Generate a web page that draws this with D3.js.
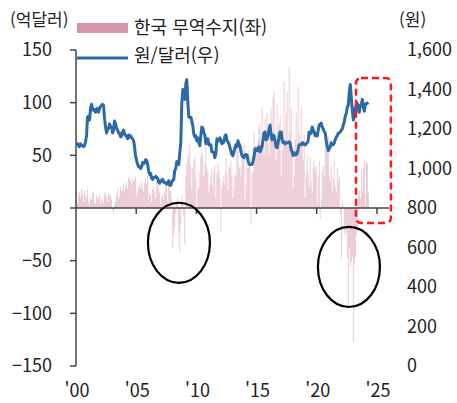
<!DOCTYPE html>
<html lang="ko">
<head>
<meta charset="UTF-8">
<title>한국 무역수지와 원/달러</title>
<script src="https://d3js.org/d3.v7.min.js"></script>
<style>
  body { margin: 0; background: #fff; }
  text { font-family: "Noto Sans CJK KR", "Noto Sans", sans-serif; fill: #222; }
</style>
</head>
<body>
<script>
// monthly, starting Jan 2000 (억달러)
var tradeBalance = [
  8, 5, 12, 15, 10, 18, 14, 6, 16, 12, 9, 17,          // 2000
  6, 3, 10, 8, 14, 16, 5, 4, 12, 8, 10, 13,            // 2001
  4, 9, 7, 5, 13, 15, 10, 6, 14, 11, 12, 8,            // 2002
  -2, -5, 3, 6, 12, 18, 9, 10, 20, 16, 17, 22,         // 2003
  15, 20, 24, 18, 28, 30, 26, 22, 29, 25, 27, 30,      // 2004
  12, 15, 20, 22, 18, 25, 19, 15, 24, 28, 23, 31,      // 2005
  8, 14, 12, 6, 18, 20, 16, 9, 26, 22, 18, 15,         // 2006
  4, 10, 12, 8, 14, 25, 20, 6, 28, 24, 16, 10,         // 2007
  -38, -25, -18, -5, 6, 10, -24, -42, -16, 12, 4, -8,  // 2008
  -35, 30, 42, 48, 50, 62, 40, 18, 38, 45, 48, 28,     // 2009
  -6, 20, 18, 35, 48, 55, 50, 30, 42, 58, 38, 35,      // 2010
  15, 22, 30, 38, 20, 35, 40, 10, 32, 42, 35, 28,      // 2011
  -23, 20, 25, 30, 22, 48, 32, 18, 40, 38, 45, 30,     // 2012
  10, 20, 32, 30, 60, 55, 38, 40, 30, 50, 48, 62,      // 2013
  8, 22, 42, 38, 55, 48, -16, 32, 35, 72, 54, 60,      // 2014
  55, 65, 80, 75, 60, 95, 70, 50, 85, 68, 90, 72,      // 2015
  50, 75, 95, 70, 105, 110, 65, 45, 98, 75, 80, 88,    // 2016
  30, 55, 75, 120, 60, 90, 110, 65, 134, 70, 95, 58,   // 2017
  20, 30, 65, 90, 60, 115, 70, 55, 95, 60, 45, 70,     // 2018
  10, 30, 50, 35, 20, 48, 25, 15, 39, 45, 35, 40,      // 2019
  5, 30, 45, -10, 8, 35, 40, 30, 65, 55, 60, 68,       // 2020
  30, 25, 40, 15, 28, 45, 20, 15, 38, 25, 30, -5,      // 2021
  -48, 8, 2, -25, -16, -24, -48, -94, -38, -55, -52, -47, // 2022
  -127, -53, -46, -26, -21, 12, 16, 9, 37, 16, 38, 45, // 2023
  3, 43, 43, 15                                        // 2024
];

// monthly average, starting Jan 2000 (원)
var usdKrw = [
  1130, 1125, 1117, 1110, 1125, 1120, 1115, 1110, 1115, 1135, 1165, 1260, // 2000
  1265, 1245, 1300, 1325, 1305, 1295, 1300, 1285, 1300, 1305, 1285, 1305, // 2001
  1315, 1320, 1325, 1320, 1255, 1210, 1180, 1195, 1205, 1225, 1210, 1210, // 2002
  1180, 1195, 1240, 1225, 1205, 1195, 1180, 1180, 1160, 1165, 1185, 1195, // 2003
  1175, 1165, 1165, 1150, 1170, 1160, 1165, 1155, 1150, 1140, 1105, 1060, // 2004
  1040, 1020, 1010, 1010, 1000, 1010, 1030, 1025, 1030, 1045, 1040, 1020, // 2005
  985, 970, 975, 950, 945, 955, 955, 960, 955, 950, 930, 925,             // 2006
  938, 938, 945, 930, 928, 928, 920, 930, 938, 915, 915, 932,             // 2007
  940, 945, 990, 1000, 1035, 1030, 1020, 1080, 1130, 1330, 1400, 1360,    // 2008
  1350, 1430, 1450, 1340, 1260, 1260, 1260, 1240, 1215, 1175, 1160, 1165, // 2009
  1140, 1155, 1135, 1115, 1165, 1210, 1205, 1180, 1170, 1125, 1135, 1150, // 2010
  1120, 1118, 1120, 1085, 1085, 1080, 1055, 1075, 1150, 1145, 1140, 1155, // 2011
  1145, 1125, 1130, 1135, 1165, 1170, 1145, 1135, 1125, 1106, 1088, 1070, // 2012
  1065, 1085, 1105, 1120, 1110, 1140, 1125, 1115, 1085, 1065, 1060, 1055, // 2013
  1070, 1070, 1070, 1040, 1025, 1020, 1020, 1020, 1035, 1060, 1100, 1100, // 2014
  1090, 1100, 1110, 1085, 1095, 1110, 1145, 1180, 1185, 1145, 1150, 1170, // 2015
  1200, 1220, 1170, 1145, 1170, 1165, 1140, 1110, 1105, 1130, 1160, 1185, // 2016
  1185, 1145, 1130, 1135, 1125, 1130, 1130, 1130, 1135, 1130, 1095, 1085, // 2017
  1065, 1080, 1070, 1070, 1075, 1095, 1120, 1120, 1120, 1130, 1130, 1120, // 2018
  1120, 1125, 1130, 1140, 1185, 1175, 1180, 1210, 1195, 1185, 1165, 1175, // 2019
  1165, 1195, 1220, 1225, 1230, 1210, 1200, 1185, 1180, 1140, 1110, 1090, // 2020
  1100, 1110, 1130, 1120, 1120, 1130, 1145, 1160, 1165, 1180, 1180, 1185, // 2021
  1195, 1200, 1220, 1235, 1265, 1280, 1310, 1320, 1390, 1425, 1355, 1295, // 2022
  1245, 1270, 1305, 1320, 1330, 1295, 1285, 1320, 1325, 1350, 1310, 1290, // 2023
  1325, 1330, 1330, 1335                                                  // 2024
];

var xTickYears = [2000, 2005, 2010, 2015, 2020, 2025];
var leftTicks = [150, 100, 50, 0, -50, -100, -150];
var rightTicks = [0, 200, 400, 600, 800, 1000, 1200, 1400, 1600];

// highlighted spots (year, 억달러)
var ellipses = [
  { cx: 2008.55, cy: -33, rx: 2.57, ry: 38 },
  { cx: 2022.67, cy: -56, rx: 2.57, ry: 38 }
];
var redBox = { x0: 2023.26, x1: 2026.16, y0: 123.4, y1: -14.2 };

var width = 457, height = 403;
var svg = d3.select('body').append('svg')
  .attr('width', width)
  .attr('height', height);

function monthDate(i) { return new Date(2000 + Math.floor(i / 12), i % 12, 15); }
function yearDate(y) {
  var yr = Math.floor(y);
  return new Date(yr, 0, 1 + Math.round((y - yr) * 365));
}

var x = d3.scaleTime()
  .domain([new Date(2000, 0, 1), new Date(2026, 0, 1)])
  .range([76, 389]);
var yL = d3.scaleLinear().domain([-150, 150]).range([366, 50]);
var yR = d3.scaleLinear().domain([0, 1600]).range([366, 50]);

// bars
svg.append('g').selectAll('rect')
  .data(tradeBalance)
  .enter()
  .append('rect')
  .attr('x', function (d, i) { return x(monthDate(i)) - 0.4; })
  .attr('width', 0.8)
  .attr('y', function (d) { return yL(Math.max(0, d)); })
  .attr('height', function (d) { return Math.abs(yL(d) - yL(0)); })
  .attr('fill', '#d58aa3')
  .attr('fill-opacity', 0.55);

// x axis at zero
var xAxis = svg.append('g').attr('transform', 'translate(0,' + yL(0) + ')');
xAxis.append('line')
  .attr('x1', x.range()[0]).attr('x2', x.range()[1])
  .attr('stroke', '#444').attr('stroke-width', 1.5);
xAxis.selectAll('.tk')
  .data(xTickYears.slice(1))
  .enter().append('line')
  .attr('x1', function (d) { return x(new Date(d, 0, 1)); })
  .attr('x2', function (d) { return x(new Date(d, 0, 1)); })
  .attr('y1', 0).attr('y2', 6)
  .attr('stroke', '#444').attr('stroke-width', 1.5);

svg.selectAll('.xlab')
  .data(xTickYears)
  .enter().append('text')
  .attr('x', function (d) { return x(new Date(d, 0, 1)) + 1; })
  .attr('y', 397)
  .attr('text-anchor', 'middle')
  .attr('font-size', '18px')
  .text(function (d) { return "'" + String(d).slice(2); });

// left axis
svg.append('line')
  .attr('x1', 76).attr('x2', 76)
  .attr('y1', yL(150)).attr('y2', yL(-150))
  .attr('stroke', '#444').attr('stroke-width', 1.5);
svg.selectAll('.ltk')
  .data(leftTicks)
  .enter().append('line')
  .attr('x1', 70).attr('x2', 76)
  .attr('y1', function (d) { return yL(d); })
  .attr('y2', function (d) { return yL(d); })
  .attr('stroke', '#444').attr('stroke-width', 1.5);
svg.selectAll('.llab')
  .data(leftTicks)
  .enter().append('text')
  .attr('x', 52)
  .attr('y', function (d) { return yL(d); })
  .attr('dy', '0.36em')
  .attr('text-anchor', 'end')
  .attr('font-size', '18px')
  .text(function (d) { return d < 0 ? '\u2212' + Math.abs(d) : d; });

// right labels (no axis line)
svg.selectAll('.rlab')
  .data(rightTicks)
  .enter().append('text')
  .attr('x', 407)
  .attr('y', function (d) { return yR(d); })
  .attr('dy', '0.36em')
  .attr('font-size', '18px')
  .text(function (d) { return d3.format(',')(d); });

svg.append('text').attr('x', 10).attr('y', 20).attr('dy', '0.36em')
  .attr('font-size', '17px').text('(억달러)');
svg.append('text').attr('x', 399).attr('y', 20).attr('dy', '0.36em')
  .attr('font-size', '17px').text('(원)');

// line
var line = d3.line()
  .x(function (d, i) { return x(monthDate(i)); })
  .y(function (d) { return yR(d); })
  .curve(d3.curveLinear);
svg.append('path')
  .datum(usdKrw)
  .attr('d', line)
  .attr('fill', 'none')
  .attr('stroke', '#2c6aa7')
  .attr('stroke-width', 3)
  .attr('stroke-linejoin', 'round');

// legend
svg.append('rect').attr('x', 77).attr('y', 23).attr('width', 51).attr('height', 10)
  .attr('fill', '#d596aa');
svg.append('text').attr('x', 134).attr('y', 28).attr('dy', '0.36em')
  .attr('font-size', '18px').text('한국 무역수지(좌)');
svg.append('line').attr('x1', 77).attr('x2', 128).attr('y1', 58).attr('y2', 58)
  .attr('stroke', '#2c6aa7').attr('stroke-width', 3);
svg.append('text').attr('x', 134).attr('y', 56).attr('dy', '0.36em')
  .attr('font-size', '18px').text('원/달러(우)');

// annotations
var yearPx = x(new Date(2001, 0, 1)) - x(new Date(2000, 0, 1));
svg.selectAll('.ell')
  .data(ellipses)
  .enter().append('ellipse')
  .attr('cx', function (d) { return x(yearDate(d.cx)); })
  .attr('cy', function (d) { return yL(d.cy); })
  .attr('rx', function (d) { return d.rx * yearPx; })
  .attr('ry', function (d) { return yL(0) - yL(d.ry); })
  .attr('fill', 'none')
  .attr('stroke', '#000')
  .attr('stroke-width', 2.2);

svg.append('rect')
  .attr('x', x(yearDate(redBox.x0)))
  .attr('y', yL(redBox.y0))
  .attr('width', x(yearDate(redBox.x1)) - x(yearDate(redBox.x0)))
  .attr('height', yL(redBox.y1) - yL(redBox.y0))
  .attr('rx', 5)
  .attr('fill', 'none')
  .attr('stroke', '#ff1a1a')
  .attr('stroke-width', 2.5)
  .attr('stroke-dasharray', '7,4');
</script>
</body>
</html>
